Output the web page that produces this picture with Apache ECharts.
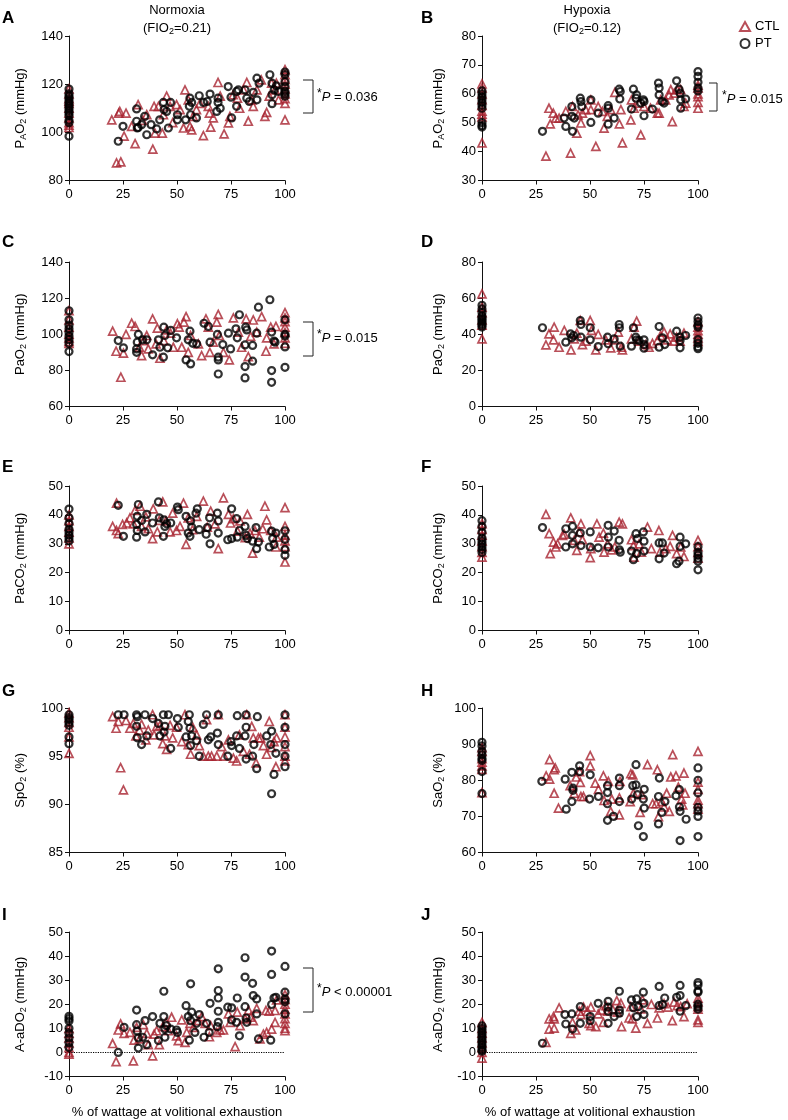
<!DOCTYPE html>
<html><head><meta charset="utf-8">
<script src="https://cdn.jsdelivr.net/npm/echarts@6/dist/echarts.min.js"></script>
<style>html,body{margin:0;padding:0;background:#fff}#c{width:788px;height:1120px}</style>
</head><body><div id="c"></div>
<script>
const xTicks = [0, 25, 50, 75, 100];
const seriesNames = ['CTL', 'PT'];

const A_CTL = [[0,102],[0,103],[0,104],[0,106],[0,108],[0,110],[0,112],[0,113],[0,114],[0,116],[0,118],
[19.8,105.2],[22,87.3],[24,87.7],[23,108],[23.5,108.7],[26.4,108],[25.5,98.4],[30.6,95.3],[29,102.5],[32,111.5],[34,105],[36,107.3],[38.8,93],[39.8,99.7],[39.4,110.8],[41.4,110.8],[43.2,99.7],[43.7,107.3],[45.2,115],[46.8,110.8],[48,104],[49.8,111.5],[51.4,109.4],[53,101.8],[53.7,117.6],[55.2,113.5],[56,102.5],[56.8,101],[57.5,106.6],[59,109.4],[60.6,112],[62.2,98.6],[64.5,110.8],[65,108],[65.6,102.2],[66.8,106],[69,120.7],[70,115],[71.8,99.4],[73.8,103.9],[74.5,106.6],[76,115.6],[78,114.2],[79,110],[80.8,117.6],[82.3,120.7],[83,104.6],[84.6,113.5],[85.3,110.8],[87,117.6],[89,121.8],[90.7,106.6],[91.5,108.3],[92.7,115],[93.8,120.4],[95.4,117.6],[96,120.4],[97,113.5],
[100,126],[100,124],[100,122],[100,120],[100,118],[100,116],[100,114],[100,112],[100,105.2]];
const A_PT = [[0,98.4],[0,104],[0,105],[0,107],[0,108],[0,109],[0,110],[0,111],[0,112],[0,113],[0,114],[0,115],[0,116],[0,118],
[22.8,96.3],[25,102.5],[31.3,109.7],[31.3,104.6],[31.6,101.8],[32,102],[33.6,103.2],[35,106.6],[36,99],[38,103.2],[40.6,101.4],[42,105.2],[43.7,112.4],[44,109.4],[45.2,108.7],[46,101.8],[47,112.4],[50.2,107.3],[50.2,105.2],[54,105.2],[55.7,110.8],[56,114.2],[56.3,107.3],[56.8,112.4],[59,106],[60.3,115.2],[62.3,112.4],[64,112.8],[65.3,115.9],[68.4,108.7],[69,112.4],[69,114.2],[70,110],[73.7,119],[75,114.6],[75.3,106],[77.6,117],[77.6,110.8],[78.4,117.6],[81.5,117.6],[82.3,114.2],[83.5,112.8],[85.3,116.6],[87,113.5],[87,122.5],[88,120.4],[93,123.9],[94,120.4],[94,115.6],[94,111.9],[95,117.6],[96,119.3],[97,117],
[100,125],[100,124],[100,121],[100,119],[100,117],[100,116],[100,115]];

const B_CTL = [[0,63.4],[0,62],[0,60],[0,58],[0,56],[0,54],[0,53],[0,52],[0,43],
[29.6,38.4],[31,55],[31.6,49.6],[33,53.3],[34.2,51.6],[35.7,51.6],[38.8,53.9],[41,39.5],[41.9,55.6],[43.9,46.4],[44.5,52.7],[45.8,49.9],[46.5,53.3],[48,54.5],[50.4,57.9],[50.4,54.5],[52.7,41.8],[53.8,55.6],[55.8,53.9],[56.5,48.1],[58,52.2],[59.6,54.5],[61.5,60.5],[63.6,49.6],[64.3,54.5],[65,43],[68.9,51],[69.2,57.9],[70.4,55],[72.7,56.8],[73.5,45.8],[75,55.6],[78,55],[81.2,53.3],[82,53.3],[82.7,57.9],[85,57.9],[86.6,59.6],[87.4,61.4],[88.1,50.4],[89,60.2],[90.4,61.4],[92,61.4],[93.5,55.6],[94.3,56.8],
[100,63],[100,62],[100,60],[100,59],[100,57],[100,55]];
const B_PT = [[0,61],[0,60],[0,59],[0,58],[0,57],[0,56],[0,55],[0,50],[0,49],[0,48.5],
[28,47],[38,51.6],[38.8,48.7],[41.6,55.6],[41.6,52.2],[41.9,47],[42.7,51.6],[45.5,58.5],[45.8,57.3],[46.2,55.6],[50.4,50.1],[50.4,57.9],[53.8,53.3],[58.4,49.5],[58.4,55.9],[58.5,55],[61.2,51.6],[63.5,61.6],[63.8,58.2],[64,60.8],[69.2,54.7],[70.1,61.6],[71.3,58.5],[71.6,59.6],[73.5,56.8],[74.7,57.9],[75,57.3],[75,52.4],[78.9,54.7],[81.7,63.7],[82,62],[82,59.6],[83.5,57.3],[84.3,56.8],[90.1,64.5],[91.2,61.6],[91.7,60.2],[92,57.9],[92,55],[94.3,58.2],
[100,67.7],[100,66],[100,64],[100,62],[100,61]];

const C_CTL = [[0,113],[0,108],[0,104],[0,100],[0,98],[0,96],[0,95],
[20.2,101.7],[21.8,90.6],[24,76.2],[25.2,89.5],[26.4,99.9],[29,106.1],[30.6,104.3],[32.6,92.8],[33.6,88.2],[34.4,96.5],[36,99.3],[36.7,91.9],[38.7,108.5],[40.3,94.7],[40.9,103.4],[42.1,86.7],[43.9,96.5],[45.2,102.4],[47,100.6],[48.3,92.8],[50.2,105.8],[51,103.9],[52.2,92.8],[53.2,106.7],[54.2,109.8],[55.2,90],[56.3,99.3],[59.9,94.7],[61.4,88.2],[63.4,108.5],[64.5,103.9],[65.2,90],[66.8,95.6],[68.4,106.7],[69.1,111],[69.6,99.3],[71.5,90],[74.2,85.8],[76.1,109.1],[78.4,101.2],[79.9,92.8],[82,108.5],[83,87.6],[84.1,98.8],[85.3,107.9],[86.9,101.2],[89.2,109.8],[91.2,90.6],[91.5,98],[93.4,103.9],[94.9,94.7],[95.8,104.3],
[100,112],[100,109],[100,107],[100,104],[100,101],[100,98],[100,95]];
const C_PT = [[0,113],[0,108],[0,105],[0,103],[0,101],[0,99],[0,97],[0,95],[0,90.4],
[22.8,96.5],[25.2,92.5],[31.3,91.9],[31.3,90],[31.6,95.6],[32.1,99.9],[34.1,96.9],[36,96.9],[38.7,88.6],[41.4,96.9],[42.1,92.8],[43.7,87.3],[43.9,103.9],[44.4,99.3],[45.7,92.5],[47.1,102.1],[49.8,98],[54.2,85.8],[55.2,96.9],[56,101.7],[56.3,83.6],[57.3,95],[59.1,94.7],[62.5,106.1],[64.5,104.3],[65.3,95.6],[68.7,99.9],[69.1,87.3],[69.1,85.8],[69.1,78],[71.2,94.3],[73.8,100.6],[74.8,91.9],[77.3,103],[77.9,98],[78.9,110.8],[81.5,94.1],[81.8,103.9],[82.3,102.4],[81.5,82.1],[81.5,75.8],[85,85.1],[85,93.8],[86.9,100.6],[87.7,115],[93,119.1],[93.8,101.2],[93.8,79.9],[93.8,73.4],[94.9,96.2],[95.4,95.6],
[100,108],[100,100],[100,99],[100,93],[100,81.7]];

const D_CTL = [[0,62.4],[0,55],[0,52],[0,48],[0,45],[0,37.4],
[29.6,34.1],[31,40.2],[33.4,43.9],[33.1,36.9],[35.7,32.8],[38.1,42.1],[41.2,31.3],[42.7,37.4],[43.9,40.6],[45.5,47.6],[46.5,34.3],[48.1,36.2],[50.1,47.6],[50.7,42.1],[52.7,31.3],[53.8,39.9],[57.3,36.9],[59.6,32.5],[61.5,36.9],[63.1,41.2],[64.6,32.8],[65,31.3],[69.2,37.4],[70.4,43.9],[71.6,47.3],[72.7,36.2],[75.8,34.3],[77.3,32.8],[78.9,35],[81.2,36.5],[82.7,39.3],[84.3,41.2],[85.8,36.9],[87.1,40.2],[88.6,36.2],[90.1,38.4],[91.7,36.2],[93.5,40.6],
[100,47],[100,44],[100,42],[100,40],[100,38],[100,36]];
const D_PT = [[0,56],[0,54],[0,52],[0,50],[0,49],[0,48],[0,47],[0,46],[0,45],[0,44],
[28,43.6],[38.8,35.6],[41,40.2],[41.6,38],[42.4,39.3],[45.5,47.6],[45.8,45.4],[45.8,38.4],[50.1,43.6],[50.1,36.9],[53.8,33.2],[58.1,38.4],[58.4,34.7],[61.2,37.4],[63.5,45.4],[63.6,43.6],[64,33.4],[69.2,33.4],[70.1,43.6],[71.2,38.4],[71.6,36.9],[72.7,36.5],[75,34.3],[75,32.3],[75,36.9],[82,44.3],[82,32.8],[83.5,38],[84.6,34.3],[90.1,41.7],[91.7,38.4],[91.7,36.5],[91.7,32.5],[94.3,39.3],
[100,49],[100,47],[100,45],[100,44],[100,37],[100,35],[100,33],[100,32]];

const E_CTL = [[0,40],[0,38],[0,36],[0,34],[0,32],[0,30],
[20.2,36],[22,44.1],[22,34.6],[22.8,33.5],[24.8,36.7],[26.7,37.2],[28.2,39],[29.8,36.9],[30.6,41.6],[32.9,43],[33.6,36],[35.6,39.3],[36.7,35.2],[38.7,31.8],[39,42.1],[40.9,34.1],[41.8,38.1],[43.4,44.5],[44.9,37.9],[46.8,34.1],[48,40.6],[49.8,34.6],[51.4,36],[53,44.1],[54.2,29.8],[55.2,39],[57.2,34.9],[59.1,39.5],[62.2,44.8],[64,35.8],[65.6,41.3],[67.6,36.9],[69.1,28.3],[71.5,45.9],[73.8,40.2],[74.8,37.2],[76.1,38.7],[78,34.4],[79.2,37.9],[81.6,32.1],[82.6,40.2],[83.8,33.7],[85,26.8],[86.1,34.6],[88.1,32.3],[89.7,35.2],[90.7,43],[91.5,38.3],[93.4,34.6],[95.8,28.9],[96.1,32.3],
[100,42.5],[100,36],[100,33],[100,31],[100,29],[100,23.7]];
const E_PT = [[0,42],[0,39],[0,37],[0,35],[0,34],[0,33],[0,32],[0,31],
[22.8,43.3],[25.2,32.6],[31.3,32.3],[31.3,36.7],[31.6,34.6],[31.6,39.5],[32.1,43.6],[33.6,38.1],[35.2,34.1],[36,40.2],[38.7,37.2],[41.4,44.5],[41.8,39],[43.7,32.6],[43.9,38.3],[44.4,36],[45.2,36.9],[47.1,37.2],[50.2,42.7],[50.6,41.8],[54.2,39.5],[55.2,33.7],[56,32.6],[56.3,37.9],[56.8,35.8],[58.8,40.6],[59.4,42.1],[60.3,34.9],[63.5,33.3],[64.1,35.6],[65.1,39],[65.3,30],[68.7,40.6],[69.1,37.9],[69.1,33.7],[73.5,31.4],[75.3,42.1],[75.3,31.8],[77.6,38.7],[77.9,32.3],[78.9,34.6],[81.5,36],[82,32.9],[82.6,31.8],[85,30.9],[86.6,35.6],[86.9,28.3],[87.7,30.6],[92.7,28.9],[93.8,34.4],[94.3,31.8],[94.9,29.8],[95.8,33.7],
[100,34.5],[100,31.5],[100,28],[100,26]];

const F_CTL = [[0,37],[0,35],[0,33],[0,31],[0,29],[0,27],[0,25.4],
[29.6,40.2],[31.1,33.5],[31.6,26.6],[33.1,30.6],[34.2,28.9],[35,30],[37.3,32.9],[38.1,33.3],[41.1,39],[42.7,31.2],[43.9,27.7],[45,34.1],[45.8,36.9],[46.5,31.4],[50.1,25.2],[50.4,28.3],[53.2,36.9],[54.2,32.3],[56.2,33.7],[56.5,27.1],[58.1,30],[60,27.9],[61.5,28.9],[63.5,37.5],[65,36.9],[69.2,31.4],[70.1,29.4],[70.4,25.4],[72.7,30],[73.8,27.1],[76.6,35.8],[78.4,28.3],[81.9,34.6],[82.4,27.1],[85.1,28.3],[87.1,29.1],[88.2,32.9],[90.1,26.6],[92,28.9],[93.5,25.6],
[100,31.2],[100,29],[100,27],[100,25]];
const F_PT = [[0,38],[0,36],[0,34],[0,32],[0,31],[0,30],[0,29],[0,28],[0,27],
[28,35.6],[38.8,35.2],[38.8,28.9],[41.9,36],[41.9,32.9],[41.9,30],[45.5,33.7],[45.8,29.4],[50.1,28.9],[50.1,34.1],[53.8,28.6],[58.4,36.4],[58.5,32.3],[58.5,28.9],[61.2,34.4],[63.5,31.2],[63.6,27.9],[64,27.1],[69.2,27.5],[70.1,24.5],[71.3,33.5],[71.6,26.6],[72,31.8],[74.7,34.1],[75,30.9],[75,27.5],[82,30.3],[82,24.8],[83.5,30.3],[84.3,26.8],[90.1,23.1],[91.2,24],[91.7,32.3],[91.7,29.1],[94.3,30],
[100,29],[100,27],[100,26],[100,25],[100,24],[100,21]];

const G_CTL = [[0,99.5],[0,99],[0,98.5],[0,98],[0,97],[0,95.3],
[20.2,99.1],[21.8,97.9],[22.8,98.6],[23.9,93.8],[25.2,91.5],[26.4,98.7],[28.2,97.9],[29.8,98.4],[31,97.1],[32.6,97.7],[33.6,98.3],[35.6,96.7],[36.7,97.7],[38.7,99.3],[39.4,97.2],[40.6,98.1],[42.1,98.2],[43.4,96.3],[44.4,97.1],[45.2,95.7],[46.8,98.2],[48,96.9],[49.8,98],[52.2,96.5],[53.7,99.3],[55.2,96.2],[56.3,95.2],[57.3,98],[59.1,97.2],[60.3,96.1],[62.2,95],[63.7,98.8],[64.5,95],[66,95],[68.4,95],[69.1,99.3],[70.7,96],[71.8,95],[73.8,96.7],[76.1,94.8],[77.6,94.5],[78.9,97.2],[80.7,95.5],[82.3,99.3],[83.6,95.2],[84.6,98.1],[85.3,96.9],[86.6,94.3],[87.7,96.9],[88.7,96.9],[90,96.1],[91.5,95.2],[92.7,98.6],[93.8,95.9],[94.9,96.5],[95.8,93.9],[96.1,96.9],
[100,99.3],[100,98],[100,97],[100,96],[100,95],[100,94.5]];
const G_PT = [[0,99.3],[0,99],[0,98.8],[0,98.5],[0,98.2],[0,97],[0,96.3],
[22.8,99.3],[25.5,99.3],[31.3,99.3],[31.3,98.1],[31.6,99.1],[31.6,96.9],[33.6,96.2],[35.2,99.3],[36,97.1],[38.7,98.9],[41.4,98.4],[42.1,97.1],[43.7,99.3],[44,97.5],[44.4,98.1],[46,99.3],[47.1,95.8],[50.2,98.9],[50.6,98],[54.2,97],[55.2,98.6],[55.7,99.3],[56,97.9],[56.3,96.1],[56.8,97.1],[59.1,96.6],[60.3,95],[62.2,98.3],[63.7,99.3],[64.5,96.7],[65.6,97],[68.7,97.4],[69.1,99.3],[69.1,96.2],[73.5,95],[75,96.5],[75.3,96.1],[77.6,97.1],[77.9,99.2],[78.9,95.8],[81.5,97.1],[82,99.3],[82,98],[82,94.7],[85,95],[85.6,96.2],[86.9,93.7],[87.2,99.1],[91.5,97.1],[93.4,96.2],[93.8,91.1],[93.8,97.6],[94.9,93.1],[95.8,95.3],
[100,99.3],[100,98],[100,96.2],[100,95],[100,93.9]];

const H_CTL = [[0,89],[0,88],[0,86],[0,85],[0,84],[0,83],[0,76.6],
[29.7,81.2],[31.3,85.7],[31.3,80.3],[33.4,82.9],[33.9,83.4],[33.4,76.4],[35.4,72.3],[40.8,78.5],[42.7,76.4],[43.6,80.9],[45.2,82.4],[45.5,79.4],[45.8,75.5],[47,75.5],[50.1,86.8],[50.1,84],[52.4,79.2],[53.9,77.5],[56.2,81.2],[56.5,74.4],[58.5,79.7],[60.1,74.8],[59.6,71.4],[63.9,79.7],[63.6,75.1],[63.6,70.4],[68.6,74.1],[68.9,81.8],[69.8,81.5],[70.1,76.4],[73.2,71.1],[73.9,76],[76.6,84.3],[79,73.5],[80.6,73.5],[81.2,82.9],[81.7,69.9],[83.2,74.1],[84.3,72.6],[85.5,76.4],[86.7,71.4],[87.4,80.9],[88.3,87.1],[89.8,81.2],[90.9,78.1],[92.4,74.8],[92.9,73.2],[93.5,82],[94,76.4],
[100,88],[100,79.5],[100,77.5],[100,74.5],[100,73.5],[100,72]];
const H_PT = [[0,90.5],[0,89.5],[0,88],[0,87],[0,86],[0,85.5],[0,82.4],[0,76.3],
[27.7,79.7],[38.5,80.3],[39,72],[41.6,82.2],[41.6,74.1],[42.1,77.8],[42.1,77.2],[45.2,84],[45.2,82.4],[49.8,74.8],[50.1,81.5],[53.9,75.5],[58.1,78.5],[58.1,76.6],[58.1,73.5],[58.1,68.9],[60.9,70],[63.6,80.6],[63.6,78.5],[63.6,74.1],[69.3,74.8],[69.8,78.5],[71.3,84.3],[71.3,78.7],[72,76],[72.4,67.4],[74.7,74.8],[75.1,72.3],[75.1,77.5],[74.7,64.4],[81.7,75.5],[82.1,80.6],[81.7,67.9],[83.2,71.1],[84.7,74.1],[89.8,75.7],[91.4,77.4],[91.4,72.6],[91.7,71.4],[91.7,63.3],[94.5,69.2],
[100,83.4],[100,80],[100,76.5],[100,72.5],[100,71.5],[100,70],[100,64.4]];

const I_CTL = [[0,10],[0,8],[0,6],[0,4],[0,2],[0,0],[0,-0.7],
[20.2,3.7],[21.8,-3.8],[22.8,9.3],[23.9,11.8],[25.5,7.9],[28.2,8.3],[29.8,-3.5],[30.1,5.1],[31.3,10.4],[32.6,5.6],[34.4,11.5],[36,7.9],[36.7,3.2],[38.7,-1.4],[39.4,7.6],[40.6,9],[41.8,3.2],[43.4,10.7],[44.9,12.5],[46,9],[47.5,14.6],[49.8,6.9],[50.6,4.9],[52.2,13.5],[53.7,4.2],[54.5,8.3],[56,12.1],[57.6,10.4],[59.9,13.2],[61.4,14.9],[63,12.1],[65,6.5],[65.6,11.1],[68.4,8.3],[69.9,9.3],[71.5,9.3],[73.8,16],[74.6,12.5],[76.9,2.4],[77.9,16.7],[79.2,11.1],[81.6,13.9],[83.1,17.6],[84.1,14.6],[85.3,13.2],[86.9,18.3],[88.4,5.6],[90,7.6],[91.2,17.4],[91.5,8.3],[92.7,17.1],[93.8,9.7],[95.4,12.5],[95.4,17.4],[96.1,21.8],
[100,24],[100,22],[100,20],[100,18],[100,16],[100,14],[100,12],[100,10],[100,9]];
const I_PT = [[0,15],[0,14],[0,13],[0,10],[0,8],[0,6],[0,4],[0,2],
[22.8,0],[25.5,10.4],[31.3,17.6],[31.3,11.5],[31.6,8.8],[32.1,6],[32.1,1.8],[34.1,6.3],[35.2,13.2],[36,3.2],[38.7,14.9],[41.4,4.9],[42.1,12.1],[43.9,25.4],[43.9,14.9],[44.4,9.7],[44.4,6.3],[45.2,11.1],[47.1,9.7],[49.8,9.3],[50.2,8.3],[54.2,19.4],[55.2,14.9],[55.7,5.1],[56.3,28.5],[56.3,13.2],[56.8,16.7],[58.3,8.3],[59.1,12.1],[60.3,15.7],[62.5,6.3],[63.7,12.1],[64.9,8.3],[65.3,20.4],[68.7,10.7],[69.1,34.7],[69.1,25.7],[69.1,22.6],[69.1,17.1],[69.1,12.5],[73.5,18.8],[75.3,18.5],[75.3,13.5],[77.6,12.5],[77.9,22.6],[78.9,6.9],[81.5,39.3],[81.5,31.3],[81.5,19],[82,14.3],[82.3,12.5],[85,28.7],[85.3,23.6],[86.9,16],[87.7,5.6],[86.9,22.2],[93.4,5.1],[93.8,42.1],[93.8,32.4],[93.8,19.9],[94.9,22.6],[95.8,22.9],
[100,35.7],[100,25],[100,22],[100,21],[100,16]];

const J_CTL = [[0,12.5],[0,10],[0,8],[0,6],[0,4],[0,2],[0,0],[0,-2.4],
[29.6,4.2],[31.1,13.9],[31.1,9.7],[33.1,14.9],[33.4,13.9],[33.4,10.1],[35.7,18.5],[41.1,7.9],[41.9,12.5],[43.4,9.3],[45,17.1],[45.8,15.7],[47,18.8],[48.8,17.1],[49.6,12.1],[50.4,18.8],[50.4,11.1],[52.7,10.7],[53.8,16],[55.3,17.6],[56.2,12.5],[57.4,19.4],[58.1,17.1],[60.4,18.1],[62.4,21.5],[62.7,16.7],[64.3,20.4],[64.6,10.7],[68.1,14.3],[68.9,19],[69.6,13.9],[71.2,10.1],[73.5,18.1],[74.3,21.8],[76.6,12.1],[78.4,19.9],[81.2,14.3],[82,18.5],[84.3,20.2],[86.1,18.8],[88.1,13.2],[88.9,20.9],[90.4,19.4],[92,19],[93.5,14.9],[95,20.2],
[100,22.5],[100,21],[100,19],[100,18],[100,13.5],[100,12.5]];
const J_PT = [[0,11],[0,10],[0,9],[0,8],[0,7],[0,6],[0,5],[0,4],[0,3],[0,2],[0,1],[0,0.5],
[28,3.8],[38.4,15.7],[38.8,11.8],[41.6,16],[41.9,9.7],[45.5,12.1],[45.5,19],[50.1,14.9],[50.1,13.2],[53.8,20.4],[58.4,21.2],[58.4,18.8],[58.4,17.1],[58.4,12.1],[61.2,14.9],[63.6,25.4],[63.6,17.6],[63.6,16.3],[69.2,21.8],[70.1,18.5],[71.6,22.2],[71.6,14.9],[72.3,19],[74.7,25],[75,20.4],[75,15.7],[82,27.4],[82,19.4],[83.5,19.9],[84.6,22.6],[90.1,22.9],[91.7,27.8],[91.7,23.6],[91.7,17.1],[94.3,19.4],
[100,29],[100,28],[100,25.5],[100,25],[100,20],[100,19],[100,18]];

const yMins = [80, 30, 60, 0, 0, 0, 85, 60, -10, -10];
const yMaxs = [140, 80, 140, 80, 50, 50, 100, 100, 50, 50];
const yIntervals = [20, 10, 20, 20, 10, 10, 5, 10, 10, 10];
const yNames = ['P{sub|A}O{sub|2} (mmHg)', 'P{sub|A}O{sub|2} (mmHg)', 'PaO{sub|2} (mmHg)', 'PaO{sub|2} (mmHg)',
  'PaCO{sub|2} (mmHg)', 'PaCO{sub|2} (mmHg)', 'SpO{sub|2} (%)', 'SaO{sub|2} (%)', 'A-aDO{sub|2} (mmHg)', 'A-aDO{sub|2} (mmHg)'];
const panelLetters = ['A','B','C','D','E','F','G','H','I','J'];
const ctlData = [A_CTL, B_CTL, C_CTL, D_CTL, E_CTL, F_CTL, G_CTL, H_CTL, I_CTL, J_CTL];
const ptData = [A_PT, B_PT, C_PT, D_PT, E_PT, F_PT, G_PT, H_PT, I_PT, J_PT];
const xAxisTitle = '% of wattage at volitional exhaustion';
const columnTitles = ['Normoxia', 'Hypoxia'];
const columnSubtitles = ['(FIO{sub|2}=0.21)', '(FIO{sub|2}=0.12)'];
const pTexts = [['A', '0.036', '='], ['B', '0.015', '='], ['C', '0.015', '='], ['I', '0.00001', '<']];

const FONT = 'Liberation Sans, Arial, Helvetica, sans-serif';
const RED = '#a82330';
const rowTops = [36, 262, 486, 708, 932];
const colLefts = [69, 482];
const gridW = 216, gridH = 144.5;

const grids = [], xAxes = [], yAxes = [], series = [];
for (let i = 0; i < 10; i++) {
  const row = Math.floor(i / 2), col = i % 2;
  grids.push({ left: colLefts[col], top: rowTops[row], width: gridW, height: gridH });
  const last = row === 4;
  xAxes.push({
    gridIndex: i, type: 'value', min: 0, max: 100, interval: 25,
    axisLine: { show: true, onZero: false, lineStyle: { color: '#111', width: 1 } },
    axisTick: { show: true, length: 4, lineStyle: { color: '#111' } },
    axisLabel: { fontSize: 13, fontFamily: FONT, color: '#000', margin: 7 },
    splitLine: { show: false },
    name: last ? xAxisTitle : '', nameLocation: 'middle', nameGap: 29,
    nameTextStyle: { fontSize: 13, fontFamily: FONT, color: '#000' }
  });
  yAxes.push({
    gridIndex: i, type: 'value', min: yMins[i], max: yMaxs[i], interval: yIntervals[i],
    axisLine: { show: true, onZero: false, lineStyle: { color: '#111', width: 1 } },
    axisTick: { show: true, length: 4, lineStyle: { color: '#111' } },
    axisLabel: { fontSize: 13, fontFamily: FONT, color: '#000', margin: 6 },
    splitLine: { show: false },
    name: yNames[i], nameLocation: 'middle', nameRotate: 90, nameGap: col === 0 ? 41 : 36,
    nameTextStyle: { fontSize: 13, fontFamily: FONT, color: '#000', lineHeight: 16,
      rich: { sub: { fontSize: 9, fontFamily: FONT, color: '#000', verticalAlign: 'bottom' } } }
  });
  const ctl = {
    name: 'CTL', type: 'scatter', xAxisIndex: i, yAxisIndex: i, data: ctlData[i],
    symbol: 'triangle', symbolSize: 8,
    itemStyle: { color: 'rgba(255,255,255,0)', borderColor: RED, borderWidth: 1.7 },
    emphasis: { disabled: true }, silent: true
  };
  if (row === 4) {
    ctl.markLine = {
      silent: true, symbol: 'none', label: { show: false },
      lineStyle: { type: 'dotted', color: '#000', width: 1.2 },
      data: [{ yAxis: 0 }]
    };
  }
  series.push(ctl);
  series.push({
    name: 'PT', type: 'scatter', xAxisIndex: i, yAxisIndex: i, data: ptData[i],
    symbol: 'circle', symbolSize: 7,
    itemStyle: { color: 'rgba(255,255,255,0)', borderColor: '#000', borderWidth: 2.2 },
    emphasis: { disabled: true }, silent: true
  });
}

const graphics = [];
const letterPos = { A: [2, 10], B: [421, 10], C: [2, 234], D: [421, 234], E: [2, 459], F: [421, 459], G: [2, 683], H: [421, 683], I: [2, 907], J: [421, 907] };
panelLetters.forEach(L => {
  graphics.push({ type: 'text', x: letterPos[L][0], y: letterPos[L][1],
    style: { text: L, fontSize: 17, fontWeight: 'bold', fontFamily: FONT, fill: '#000', align: 'left', verticalAlign: 'top' } });
});
const titleX = [177, 587];
for (let c = 0; c < 2; c++) {
  graphics.push({ type: 'text', x: titleX[c], y: 10,
    style: { text: columnTitles[c], fontSize: 13, fontFamily: FONT, fill: '#000', align: 'center', verticalAlign: 'middle' } });
  graphics.push({ type: 'text', x: titleX[c], y: 28,
    style: { text: columnSubtitles[c], fontSize: 13, fontFamily: FONT, fill: '#000', align: 'center', verticalAlign: 'middle', lineHeight: 16,
      rich: { sub: { fontSize: 9, fontFamily: FONT, fill: '#000', verticalAlign: 'bottom' } } } });
}
const bracketPos = { A: [303, 313, 80, 113, 317, 97], B: [709, 717, 83, 111, 722, 99], C: [303, 313, 322, 356, 317, 338], I: [303, 313, 968, 1012, 317, 992] };
pTexts.forEach(([L, val, op]) => {
  const b = bracketPos[L];
  graphics.push({ type: 'polyline', shape: { points: [[b[0], b[2]], [b[1], b[2]], [b[1], b[3]], [b[0], b[3]]] },
    style: { stroke: '#222', lineWidth: 1, fill: null } });
  graphics.push({ type: 'text', x: b[4], y: b[5],
    style: { text: '{sup|*}{it|P} ' + op + ' ' + val, fontSize: 13, fontFamily: FONT, fill: '#000', align: 'left', verticalAlign: 'middle', lineHeight: 18,
      rich: { sup: { fontSize: 12, fontFamily: FONT, fill: '#000', verticalAlign: 'top' },
              it: { fontSize: 13, fontFamily: FONT, fontStyle: 'italic', fill: '#000' } } } });
});

const chart = echarts.init(document.getElementById('c'), null, { renderer: 'canvas' });
chart.setOption({
  animation: false,
  backgroundColor: '#fff',
  legend: {
    data: seriesNames, orient: 'vertical', left: 734, top: 15, itemWidth: 10, itemHeight: 9, itemGap: 4,
    textStyle: { fontSize: 13, fontFamily: FONT, color: '#000' }, selectedMode: false
  },
  grid: grids, xAxis: xAxes, yAxis: yAxes, series: series, graphic: graphics
});
</script>
</body></html>
